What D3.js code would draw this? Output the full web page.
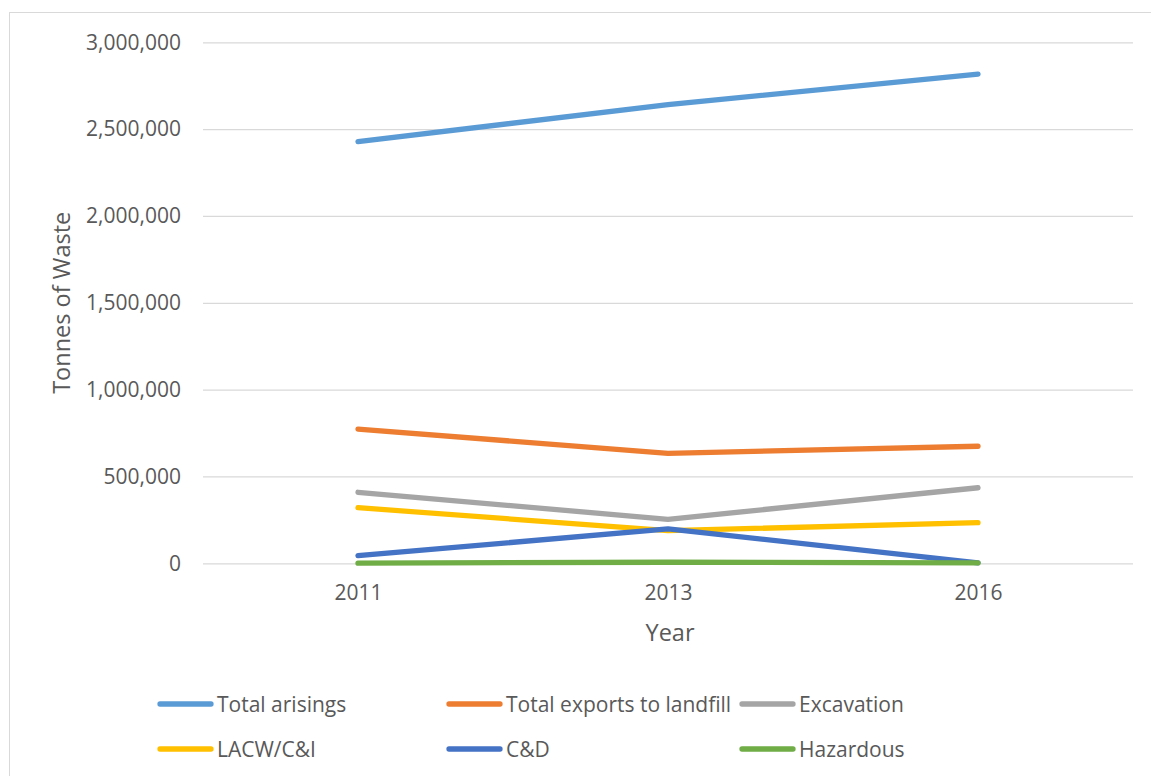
<!DOCTYPE html>
<html>
<head>
<meta charset="utf-8">
<script src="https://cdn.jsdelivr.net/npm/d3@7"></script>
<style>
  body { margin: 0; background: #fff; }
  svg text { font-family: "Open Sans", sans-serif; fill: #595959; }
</style>
</head>
<body>
<svg id="board"></svg>
<script>
let years = ['2011', '2013', '2016']
let seriesNames = ['Total arisings', 'Total exports to landfill', 'Excavation', 'LACW/C&I', 'C&D', 'Hazardous']
let totalArisings = [2428000, 2641000, 2817000]
let totalExports = [773000, 633000, 674000]
let excavation = [409000, 253000, 435000]
let lacw = [320000, 188000, 234000]
let cd = [44000, 198000, 3000]
let hazardous = [1000, 6000, 2000]
let yTicks = [0, 500000, 1000000, 1500000, 2000000, 2500000, 3000000]
let colors = ['#5B9BD5', '#ED7D31', '#A5A5A5', '#FFC000', '#4472C4', '#70AD47']

let allValues = [totalArisings, totalExports, excavation, lacw, cd, hazardous]

let width = 1151
let height = 776
let plotLeft = 203
let plotRight = 1133
let plotTop = 42.3
let plotBottom = 563.3

let board = d3.select('#board')
              .attr('width', width)
              .attr('height', height)

// outer chart border
board.append('rect')
     .attr('x', 9.5).attr('y', 12.5)
     .attr('width', 1160).attr('height', 800)
     .attr('fill', 'none')
     .attr('stroke', '#D9D9D9')

let xScale = d3.scalePoint()
               .domain(years)
               .range([plotLeft, plotRight])
               .padding(0.5)

let yScale = d3.scaleLinear()
               .domain([0, 3000000])
               .range([plotBottom, plotTop])

// gridlines + y labels
let yAxis = d3.axisLeft(yScale)
              .tickValues(yTicks)
              .tickSize(-(plotRight - plotLeft))
              .tickPadding(22)
              .tickFormat(d3.format(','))
let gy = board.append('g')
              .attr('transform', 'translate(' + plotLeft + ',0)')
              .call(yAxis)
gy.select('.domain').remove()
gy.selectAll('line').attr('stroke', '#D9D9D9').attr('stroke-width', 1.3)
gy.selectAll('text').style('font-size', '21px').attr('fill', '#595959')

let xAxis = d3.axisBottom(xScale).tickSize(0).tickPadding(22)
let gx = board.append('g')
              .attr('transform', 'translate(0,' + plotBottom + ')')
              .call(xAxis)
gx.select('.domain').remove()
gx.selectAll('text').style('font-size', '21px').attr('fill', '#595959')

// axis titles
board.append('text')
     .attr('x', (plotLeft + plotRight) / 2 + 2)
     .attr('y', 641)
     .attr('text-anchor', 'middle')
     .style('font-size', '23.5px')
     .text('Year')

board.append('text')
     .attr('transform', 'translate(70,' + (plotTop + plotBottom) / 2 + ') rotate(-90)')
     .attr('text-anchor', 'middle')
     .style('font-size', '23.5px')
     .text('Tonnes of Waste')

// lines
let line = d3.line()
             .x((d, i) => xScale(years[i]))
             .y((d) => yScale(d))

board.selectAll('path.series')
     .data(allValues)
     .enter()
     .append('path')
     .attr('class', 'series')
     .attr('d', (d) => line(d))
     .attr('fill', 'none')
     .attr('stroke', (d, i) => colors[i])
     .attr('stroke-width', 5.3)
     .attr('stroke-linecap', 'round')
     .attr('stroke-linejoin', 'round')

// legend
let legendCols = [158, 447, 740]
let legendRows = [704, 749]
let legend = board.selectAll('g.legend')
                  .data(seriesNames)
                  .enter()
                  .append('g')
                  .attr('class', 'legend')
                  .attr('transform', (d, i) => 'translate(' + legendCols[i % 3] + ',' + legendRows[Math.floor(i / 3)] + ')')
legend.append('line')
      .attr('x1', 2).attr('x2', 53)
      .attr('y1', 0).attr('y2', 0)
      .attr('stroke', (d, i) => colors[i])
      .attr('stroke-width', 5.3)
      .attr('stroke-linecap', 'round')
legend.append('text')
      .attr('x', 59)
      .attr('y', 7.5)
      .style('font-size', '21px')
      .text((d) => d)
</script>
</body>
</html>
